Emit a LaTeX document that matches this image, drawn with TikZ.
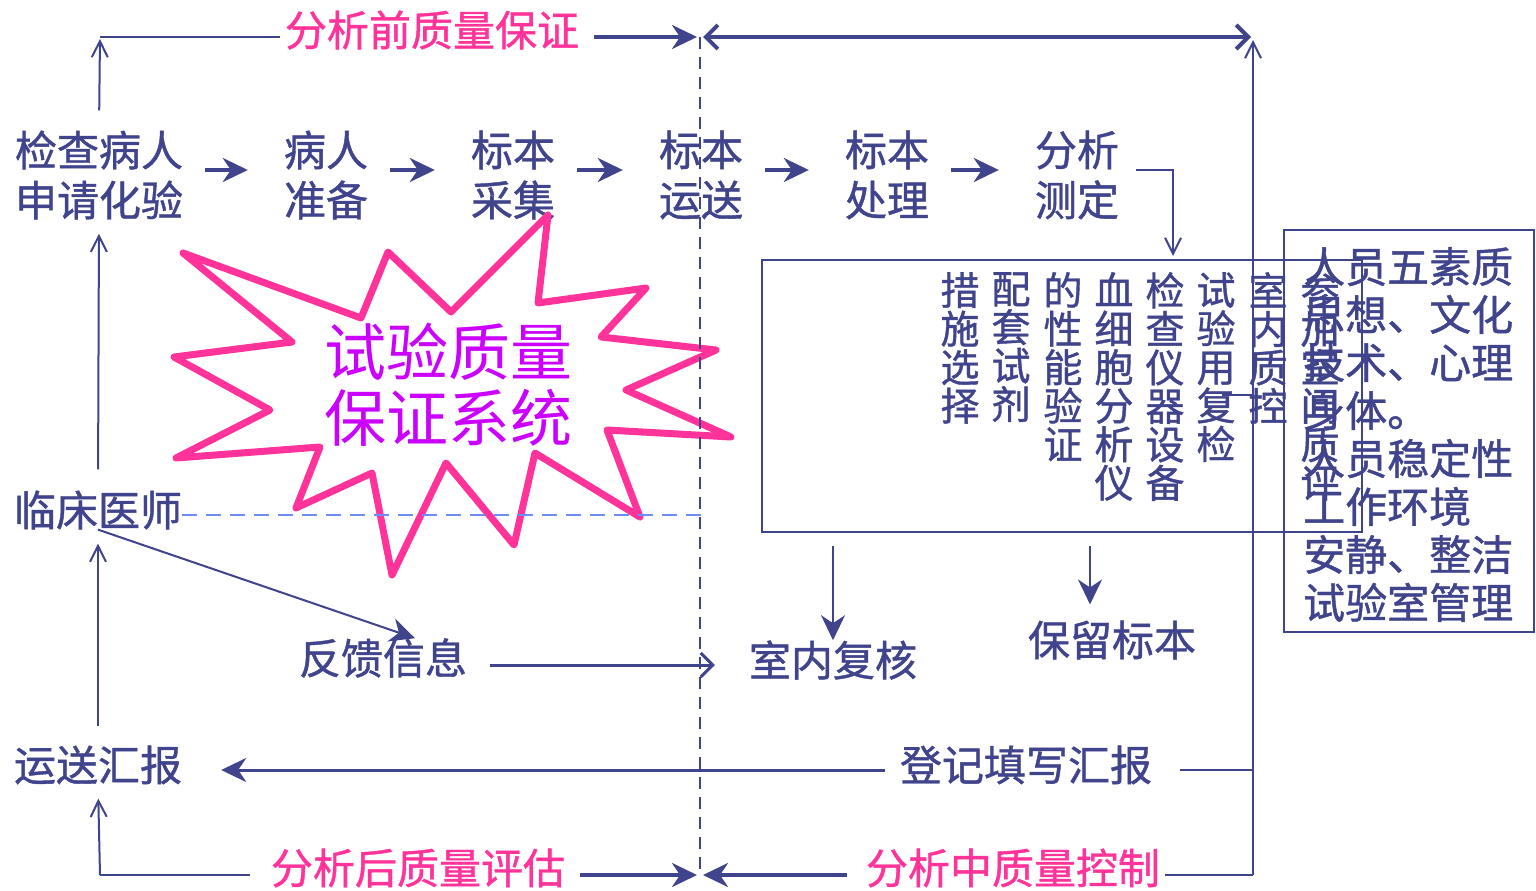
\documentclass[tikz,border=0pt]{standalone}
\usepackage{fontspec}
\setmainfont{Noto Sans CJK SC}
\newfontfamily\heavy{Noto Sans CJK SC}[FakeBold=1]
\usetikzlibrary{arrows.meta}
\definecolor{navy}{RGB}{64,68,140}
\definecolor{hotpink}{RGB}{255,51,153}
\definecolor{starmag}{RGB}{204,0,255}
\definecolor{dashblue}{RGB}{110,140,245}

\begin{document}
\begin{tikzpicture}[x=1pt,y=-1pt,
        every node/.style={inner sep=0pt,text=navy},
        txt/.style={font=\heavy\fontsize{42}{50}\selectfont,align=center},
        lbl/.style={font=\heavy\fontsize{42}{50}\selectfont,text=hotpink},
        col/.style={anchor=north,align=center,font=\heavy\fontsize{39}{38.5}\selectfont},
        ln/.style={draw=navy,line width=2pt},
        fat/.style={draw=navy,line width=3.5pt,-{Stealth[length=25pt,width=24pt,inset=8pt]}},
        barb/.style={draw=navy,line width=4pt,-{Straight Barb[length=12pt,width=24pt]}},
        thinarr/.style={ln,-{Straight Barb[length=16pt,width=16pt]}},
        frame/.style={draw=navy,line width=2.5pt}]
  \fill[white] (0,0) rectangle (1536,891);
  \useasboundingbox (0,0) rectangle (1536,891);

  \node[txt] (req) at (99,175) {检查病人\\申请化验};
  \node[txt] (prep) at (326,175) {病人\\准备};
  \node[txt] (coll) at (513,175) {标本\\采集};
  \node[txt] (trans) at (701,175) {标本\\运送};
  \node[txt] (proc) at (887,175) {标本\\处理};
  \node[txt] (meas) at (1077,175) {分析\\测定};

  \node[txt] (doc) at (98,510) {临床医师};
  \node[txt] (rep) at (98,765) {运送汇报};
  \node[txt] (fb) at (383,658) {反馈信息};
  \node[txt] (rech) at (833,660) {室内复核};
  \node[txt] (keep) at (1112,640) {保留标本};
  \node[txt] (reg) at (1026,765) {登记填写汇报};

  \node[lbl] (pre) at (432,30) {分析前质量保证};
  \node[lbl] (post) at (418,868) {分析后质量评估};
  \node[lbl] (mid) at (1013,868) {分析中质量控制};

  \node[frame,minimum width=600pt,minimum height=272pt] (box) at (1062,396) {};
  \node[col] (c1) at (960,272) {措\\施\\选\\择};
  \node[col] (c2) at (1011,272) {配\\套\\试\\剂};
  \node[col] (c3) at (1063,272) {的\\性\\能\\验\\证};
  \node[col] (c4) at (1114,272) {血\\细\\胞\\分\\析\\仪};
  \node[col] (c5) at (1165,272) {检\\查\\仪\\器\\设\\备};
  \node[col] (c6) at (1216,272) {试\\验\\用\\复\\检};
  \node[col] (c7) at (1268,272) {室\\内\\质\\控};
  \node[col] (c8) at (1320,272) {参\\加\\室\\间\\质\\评};

  \node[frame,minimum width=250pt,minimum height=402pt] (staff) at (1409,431) {};
  \node[anchor=north west,align=left,font=\heavy\fontsize{42}{48}\selectfont] (stafftxt) at (1303,247)
    {人员五素质\\思想、文化\\技术、心理\\身体。\\人员稳定性\\工作环境\\安静、整洁\\试验室管理};

  \draw[draw=hotpink,line width=7pt,line join=round] (183,253) -- (361,318) -- (388,252)
    -- (451,312) -- (548,215) -- (538,303) -- (646,288) -- (601,337) -- (716,350)
    -- (626,390) -- (731,437) -- (607,430) -- (640,517) -- (535,453) -- (514,545)
    -- (446,463) -- (392,575) -- (372,473) -- (296,508) -- (320,447) -- (176,458)
    -- (270,410) -- (174,357) -- (292,342) -- cycle;
  \node[font=\fontsize{62}{66}\selectfont,align=center,text=starmag] (sys) at (448,385) {试验质量\\保证系统};

  \coordinate (tl) at (100,37);
  \coordinate (tm) at (700,37);
  \coordinate (tr) at (1253,37);
  \coordinate (bl) at (100,875);
  \coordinate (bm) at (700,875);
  \coordinate (br) at (1253,875);
  \coordinate (ay) at (0,170);
  \coordinate (fy) at (0,665);
  \coordinate (ry) at (1253,770);
  \coordinate (dm) at (705,515);
  \coordinate (mb) at (1173,258);
  \coordinate (qc) at (1222,395);
  \coordinate (kp) at ([xshift=-22pt]keep.north);

  \draw[fat,shorten <=22pt,shorten >=36pt] (ay -| req.east) -- (ay -| prep.west);
  \draw[fat,shorten <=22pt,shorten >=36pt] (ay -| prep.east) -- (ay -| coll.west);
  \draw[fat,shorten <=22pt,shorten >=36pt] (ay -| coll.east) -- (ay -| trans.west);
  \draw[fat,shorten <=22pt,shorten >=36pt] (ay -| trans.east) -- (ay -| proc.west);
  \draw[fat,shorten <=22pt,shorten >=36pt] (ay -| proc.east) -- (ay -| meas.west);
  \draw[thinarr,shorten <=17pt,shorten >=2pt] (ay -| meas.east) -| (mb);

  \draw[draw=navy,line width=1.5pt,dash pattern=on 12pt off 8pt] (tm) -- (bm);
  \draw[thinarr,shorten <=20pt,shorten >=2pt] (req.north) -- (tl);
  \draw[ln,shorten >=5pt] (tl) -- (tl -| pre.west);
  \draw[fat,shorten <=15pt,shorten >=3pt] (tl -| pre.east) -- (tm);
  \draw[draw=navy,line width=4pt,{Straight Barb[length=12pt,width=24pt]}-{Straight Barb[length=12pt,width=24pt]},shorten <=3pt,shorten >=2pt] (tm) -- (tr);
  \draw[thinarr,shorten >=3pt] (br) -- (tr);

  \draw[thinarr,shorten <=21pt,shorten >=14pt] (doc.north) -- (req.south);
  \draw[thinarr,shorten <=19pt,shorten >=14pt] (rep.north) -- (doc.south);
  \draw[thinarr,shorten >=14pt] (bl) -- (rep.south);
  \draw[ln,shorten >=21pt] (bl) -- (bl -| post.west);
  \draw[fat,shorten <=15pt,shorten >=3pt] (bl -| post.east) -- (bm);
  \draw[ln,shorten >=5pt] (br) -- (br -| mid.east);
  \draw[fat,shorten <=19pt,shorten >=3pt] (br -| mid.west) -- (bm);

  \draw[draw=dashblue,line width=2.5pt,dash pattern=on 15pt off 9pt] (dm -| doc.east) -- (dm);
  \draw[fat,line width=2pt] (doc.south) -- ([xshift=32pt]fb.north);
  \draw[barb,line width=3pt,shorten <=23pt,shorten >=34pt] (fy -| fb.east) -- (fy -| rech.west);
  \draw[fat,line width=2.5pt,shorten <=13pt] (box.south -| rech.north) -- (rech.north);
  \draw[fat,line width=2.5pt,shorten <=13pt,shorten >=16pt] (kp |- box.south) -- (kp);
  \draw[ln,shorten >=28pt] (ry) -- (ry -| reg.east);
  \draw[fat,line width=3pt,shorten <=15pt,shorten >=39pt] (ry -| reg.west) -- (ry -| rep.east);
  \draw[ln] (qc) -- (qc -| br);
\end{tikzpicture}
\end{document}
